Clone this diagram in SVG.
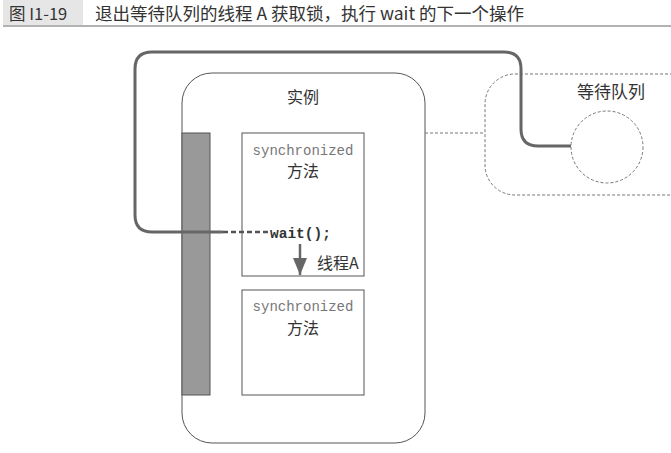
<svg xmlns="http://www.w3.org/2000/svg" width="671" height="453" viewBox="0 0 671 453">
  <style>
    .cjk { font-family: "Noto Sans CJK SC", "Noto Sans", sans-serif; fill: #333; }
    .mono { font-family: "Liberation Mono", "DejaVu Sans Mono", monospace; }
    .box { fill: #fff; stroke: #555; stroke-width: 1; }
    .dash { fill: none; stroke: #777; stroke-width: 1; stroke-dasharray: 3 2; }
    .thread { fill: none; stroke: #666; stroke-width: 3; }
  </style>
  <defs>
    <marker id="arrowHead" markerWidth="17" markerHeight="14" refX="17" refY="7" orient="auto" markerUnits="userSpaceOnUse" viewBox="0 0 17 14">
      <path d="M0,0 L17,7 L0,14 Z" fill="#666"/>
    </marker>
  </defs>
  <rect width="671" height="453" fill="#fff"/>

  <!-- caption -->
  <g id="caption">
    <rect x="3" y="0" width="80" height="25" fill="#e6e6e6"/>
    <line x1="3" y1="26" x2="671" y2="26" stroke="#666" stroke-width="1.2"/>
    <text x="9" y="20" class="cjk" font-size="16.5" fill="#222">图 I1-19</text>
    <text x="95" y="20" class="cjk" font-size="17.5" fill="#222">退出等待队列的线程 A 获取锁，执行 wait 的下一个操作</text>
  </g>

  <!-- waiting queue -->
  <g id="queue">
    <rect x="485" y="74" width="220" height="121" rx="30" class="dash"/>
    <text x="611" y="98" class="cjk" font-size="17" text-anchor="middle">等待队列</text>
    <circle cx="607" cy="147" r="36" class="dash"/>
  </g>

  <!-- instance -->
  <g id="instance">
    <rect x="182" y="73" width="243" height="370" rx="30" class="box"/>
    <text x="303" y="103" class="cjk" font-size="16" text-anchor="middle">实例</text>
    <rect x="182" y="133" width="28" height="262" fill="#999" stroke="#555" stroke-width="1"/>
  </g>

  <g id="method1">
    <rect x="242" y="133" width="122" height="143" class="box"/>
    <text x="303" y="155" class="mono" font-size="14" fill="#777" text-anchor="middle">synchronized</text>
    <text x="303" y="177" class="cjk" font-size="16" text-anchor="middle">方法</text>
    <text x="270" y="238" class="mono" font-size="14.5" font-weight="bold" fill="#333">wait();</text>
  </g>

  <g id="method2">
    <rect x="242" y="290" width="122" height="105" class="box"/>
    <text x="303" y="311" class="mono" font-size="14" fill="#777" text-anchor="middle">synchronized</text>
    <text x="303" y="334" class="cjk" font-size="16" text-anchor="middle">方法</text>
  </g>

  <!-- connectors -->
  <g id="connectors">
    <line x1="425" y1="133" x2="485" y2="133" class="dash"/>
    <path d="M571,146 H538 Q521,146 521,129 V69 Q521,52 504,52 H152 Q135,52 135,69 V215 Q135,232 152,232 H223" class="thread"/>
    <line x1="223" y1="232" x2="268" y2="232" stroke="#555" stroke-width="2.5" stroke-dasharray="5 3"/>
    <line x1="300" y1="244" x2="300" y2="275" stroke="#666" stroke-width="2.5" marker-end="url(#arrowHead)"/>
    <text x="317" y="269" class="cjk" font-size="16">线程A</text>
  </g>
</svg>
